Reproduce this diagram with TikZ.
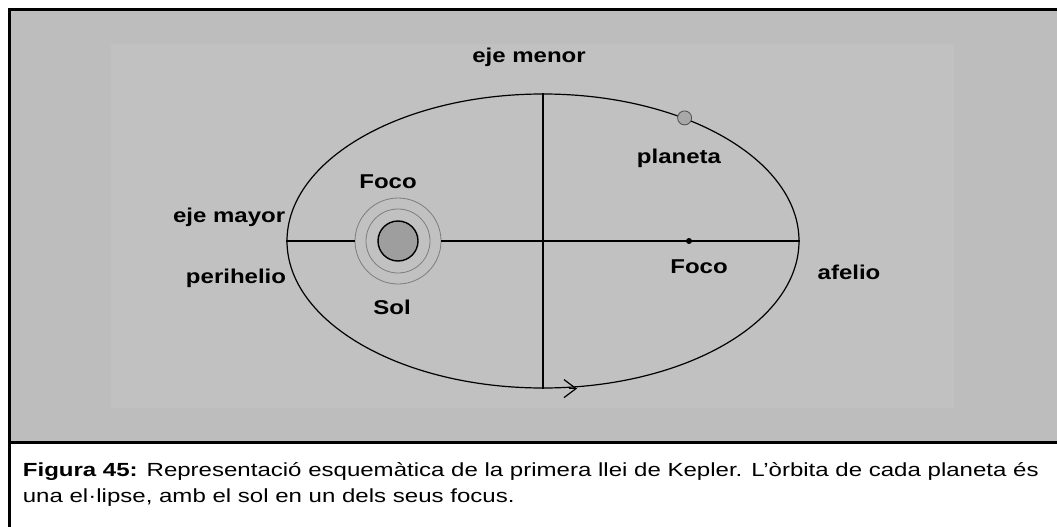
\documentclass[tikz,border=0pt]{standalone}
\usepackage{fontspec}
\setmainfont{Liberation Sans}
\usetikzlibrary{positioning,shapes.geometric,arrows.meta}

\definecolor{panelgray}{RGB}{189,189,189}
\definecolor{innergray}{RGB}{193,193,193}
\definecolor{sungray}{RGB}{158,158,158}
\definecolor{ringgray}{RGB}{125,125,125}

\tikzset{
  lbl/.style={font=\fontsize{20}{24}\selectfont\bfseries, inner sep=0pt, xscale=1.2},
  ring/.style={circle, draw=ringgray, line width=0.8pt, inner sep=0pt},
  capline/.style={anchor=base west, inner sep=0pt, xscale=1.265, font=\fontsize{19}{23}\selectfont},
}

\begin{document}
\begin{tikzpicture}[x=1pt,y=-1pt,line width=1.4pt]
\useasboundingbox (0,0) rectangle (1057,527);
% panels and frame
\fill[panelgray] (9,10) rectangle (1057,442);
\fill[innergray] (111,44) rectangle (954,408);
\draw[line width=3pt] (9,527) -- (9,10) -- (1057,10);
\draw[line width=3pt] (9,442) -- (1057,442);

% orbit and axes
\node[draw, ellipse, line width=1.2pt, inner sep=0pt,
      minimum width=512, minimum height=294] (orbit) at (543,241) {};
\draw (orbit.north) -- (orbit.south);

% sun with its rings
\node[circle, draw, fill=sungray, minimum size=40, inner sep=0pt] (sol) at (398,241) {};
\node[ring, minimum size=64] (ring1) at (sol) {};
\node[ring, minimum size=86] (ring2) at (sol) {};
\draw (orbit.west) -- (ring2.west);
\draw (ring2.east) -- (orbit.east);

% empty focus and planet
\node[circle, fill=black, minimum size=6, inner sep=0pt] (foco) at (689,241) {};
\node[circle, draw=black!70, fill=sungray!90, line width=0.8pt,
      minimum size=14, inner sep=0pt] (planet) at (orbit.41) {};

% direction of motion
\coordinate (tip) at ([xshift=34]orbit.south);
\draw[-{Straight Barb[length=12pt,width=18pt]}, line width=1.2pt] ([xshift=-8]tip) -- (tip);

% labels
\node[lbl] (menor) at (529,57) {eje menor};
\node[lbl] (planetlbl) at (679,158) {planeta};
\node[lbl] (focosol) at (388,182) {Foco};
\node[lbl, anchor=east] (mayor) at (286,217) {eje mayor};
\node[lbl] (peri) at (236,278) {perihelio};
\node[lbl] (sollbl) at (392,307) {Sol};
\node[lbl] (focolbl) at (699,267) {Foco};
\node[lbl] (afelio) at (849,272) {afelio};

% caption
\node[capline] (cap1) at (22,476) {\textbf{Figura 45:} Representació esquemàtica de la primera llei de Kepler. L’òrbita de cada planeta és};
\node[capline] (cap2) at (22,502) {una el·lipse, amb el sol en un dels seus focus.};
\end{tikzpicture}
\end{document}
